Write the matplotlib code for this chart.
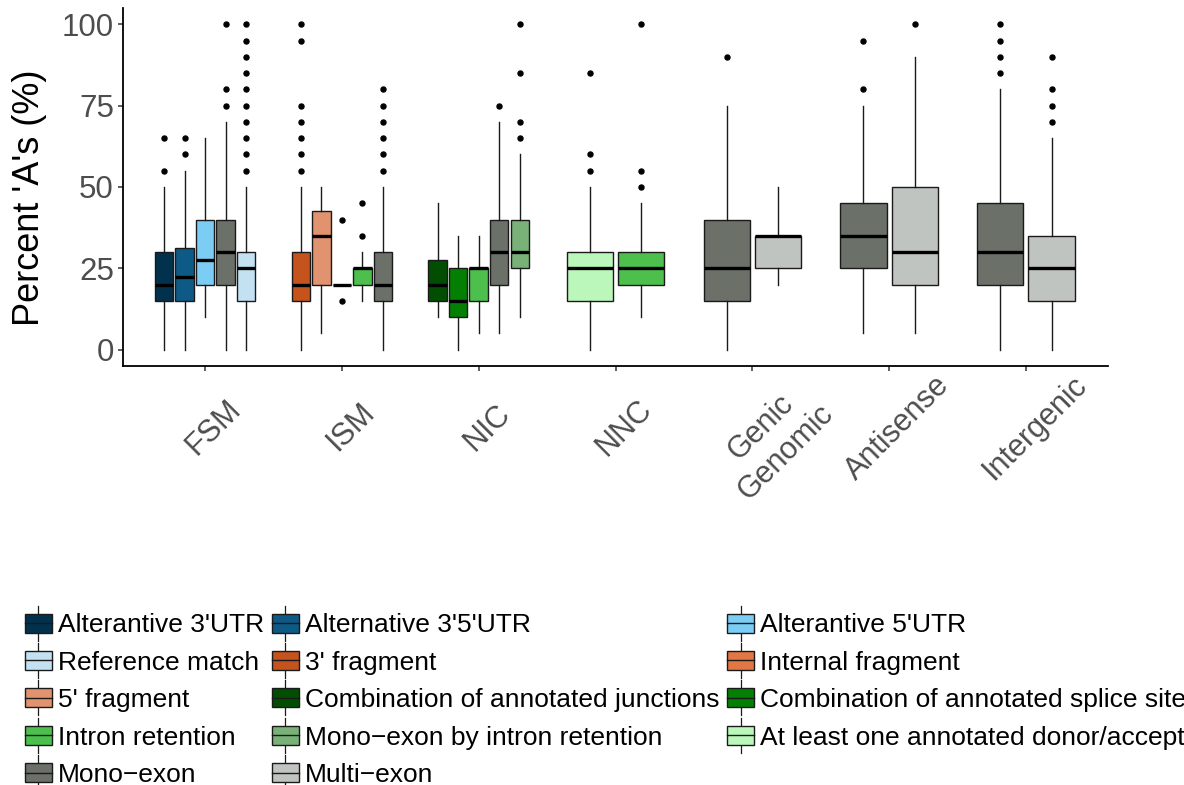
import matplotlib
matplotlib.use("Agg")
import matplotlib.pyplot as plt
import matplotlib.transforms as mtransforms
from matplotlib.patches import Rectangle, Patch
from matplotlib.lines import Line2D
from matplotlib.legend_handler import HandlerBase

plt.rcParams['font.family'] = ['Liberation Sans', 'DejaVu Sans']

# ---------------- data ----------------
categories = ["FSM", "ISM", "NIC", "NNC", "Genic\nGenomic", "Antisense", "Intergenic"]

subcategories = ["Alterantive 3'UTR", "Alternative 3'5'UTR", "Alterantive 5'UTR",
                 "Reference match", "3' fragment", "Internal fragment",
                 "5' fragment", "Combination of annotated junctions",
                 "Combination of annotated splice sites",
                 "Intron retention", "Mono\u2212exon by intron retention",
                 "At least one annotated donor/acceptor",
                 "Mono\u2212exon", "Multi\u2212exon"]

sub_colors = ["#02314d", "#0e5a87", "#7ccdf4",
              "#c4e1f2", "#c4531d", "#e37744",
              "#e0936e", "#014d02", "#038003",
              "#4cbf4c", "#79b179", "#bbf7bb",
              "#6b7069", "#c0c4c0"]

box_category = [0, 0, 0, 0, 0,
                1, 1, 1, 1, 1,
                2, 2, 2, 2, 2,
                3, 3,
                4, 4,
                5, 5,
                6, 6]
box_subcategory = [0, 1, 2, 12, 3,
                   4, 6, 5, 9, 12,
                   7, 8, 9, 12, 10,
                   11, 9,
                   12, 13,
                   12, 13,
                   12, 13]
q1 = [15, 15, 20, 20, 15,
      15, 20, 20, 20, 15,
      15, 10, 15, 20, 25,
      15, 20,
      15, 25,
      25, 20,
      20, 15]
medians = [20, 22.5, 27.5, 30, 25,
           20, 35, 20, 25, 20,
           20, 15, 25, 30, 30,
           25, 25,
           25, 35,
           35, 30,
           30, 25]
q3 = [30, 31.25, 40, 40, 30,
      30, 42.5, 20, 25, 30,
      27.5, 25, 25, 40, 40,
      30, 30,
      40, 35,
      45, 50,
      45, 35]
whisker_low = [0, 0, 10, 0, 0,
               0, 5, 20, 15, 0,
               10, 0, 5, 5, 10,
               0, 10,
               0, 20,
               5, 5,
               0, 0]
whisker_high = [50, 55, 65, 70, 50,
                50, 50, 20, 30, 50,
                45, 35, 35, 70, 60,
                50, 45,
                75, 50,
                75, 90,
                80, 65]
outliers = [[55, 65], [60, 65], [], [75, 80, 100],
            [55, 60, 65, 70, 75, 80, 85, 90, 95, 100],
            [55, 60, 65, 70, 75, 95, 100], [], [15, 40], [35, 45],
            [55, 60, 65, 70, 75, 80],
            [], [], [], [75], [65, 70, 85, 100],
            [55, 60, 85], [50, 55, 100],
            [90], [],
            [80, 95], [100],
            [85, 90, 95, 100], [70, 75, 80, 90]]

y_ticks = [0, 25, 50, 75, 100]

# ---------------- figure ----------------
W, H = 1184, 785
fig = plt.figure(figsize=(W / 100, H / 100), dpi=100)
ax = fig.add_axes([123 / W, 1 - 366 / H, 985 / W, 358 / H])

# dodge positions (ggplot-like)
group_size = {c: box_category.count(c) for c in set(box_category)}
seen = {}
positions, widths = [], []
for c in box_category:
    i = seen.get(c, 0)
    seen[c] = i + 1
    n = group_size[c]
    positions.append(c + 1 - 0.375 + (i + 0.5) * 0.75 / n)
    widths.append(0.9 * 0.75 / n)

stats = []
for k in range(len(box_category)):
    stats.append(dict(q1=q1[k], med=medians[k], q3=q3[k],
                      whislo=whisker_low[k], whishi=whisker_high[k],
                      fliers=outliers[k]))

res = ax.bxp(stats, positions=positions, widths=widths, patch_artist=True,
             showcaps=False,
             boxprops=dict(edgecolor='#1a1a1a', linewidth=1.0),
             medianprops=dict(color='black', linewidth=2.4, solid_capstyle='butt'),
             whiskerprops=dict(color='#1a1a1a', linewidth=1.0),
             flierprops=dict(marker='o', markerfacecolor='black',
                             markeredgecolor='black', markersize=3.6,
                             linestyle='none'))
for patch, s in zip(res['boxes'], box_subcategory):
    patch.set_facecolor(sub_colors[s])
    patch.set_zorder(2)

ax.set_xlim(0.4, len(categories) + 0.6)
ax.set_ylim(-5, 105)
ax.set_yticks(y_ticks)
ax.set_yticklabels([str(v) for v in y_ticks])
ax.set_xticks(range(1, len(categories) + 1))
ax.set_xticklabels([''] * len(categories))

for side in ['top', 'right']:
    ax.spines[side].set_visible(False)
for side in ['left', 'bottom']:
    ax.spines[side].set_color('black')
    ax.spines[side].set_linewidth(1.3)

ax.tick_params(axis='both', direction='out', length=3.6, width=1.1,
               color='#333333', labelcolor='#4d4d4d', labelsize=22.5, pad=3)

ax.set_ylabel("Percent 'A's (%)", fontsize=26, color='black')
ax.yaxis.set_label_coords(-0.077, 0.47)

# rotated x labels
trans = mtransforms.blended_transform_factory(ax.transData, fig.transFigure)
trans = trans + mtransforms.ScaledTranslation(-2 / 100, 0, fig.dpi_scale_trans)
for i, lab in enumerate(categories):
    ax.text(i + 1, 1 - 417 / H, lab, transform=trans, rotation=45,
            rotation_mode='anchor', ha='center', va='top',
            multialignment='center', fontsize=22, color='#4d4d4d',
            clip_on=False)


# legend with boxplot glyph keys
class BoxKeyHandler(HandlerBase):
    def create_artists(self, legend, orig_handle, xdescent, ydescent,
                       width, height, fontsize, trans):
        x0 = -xdescent
        cy = 0.358 * fontsize          # centred on cap height of the text
        half_all = 0.663 * fontsize
        half_box = 0.36 * fontsize
        cx = x0 + width / 2
        wl = Line2D([cx, cx], [cy - half_all, cy + half_all], color='#1a1a1a',
                    lw=0.9, transform=trans)
        rect = Rectangle((x0, cy - half_box), width, 2 * half_box,
                         facecolor=orig_handle.get_facecolor(),
                         edgecolor='#1a1a1a', lw=1.0, transform=trans)
        mid = Line2D([x0, x0 + width], [cy, cy], color='#1a1a1a',
                     lw=1.0, transform=trans)
        return [wl, rect, mid]


handles = [Patch(facecolor=c) for c in sub_colors]
ncol = 3
nrow = -(-len(subcategories) // ncol)
order = []
for col in range(ncol):
    for row in range(nrow):
        k = row * ncol + col
        if k < len(subcategories):
            order.append(k)

fig.legend([handles[k] for k in order], [subcategories[k] for k in order],
           handler_map={Patch: BoxKeyHandler()}, ncol=ncol,
           loc='upper left', bbox_to_anchor=(25 / W, 1 - 609 / H),
           frameon=False, fontsize=19, handlelength=1.02, handleheight=1.33,
           handletextpad=0.23, columnspacing=0.3, labelspacing=0.31,
           borderpad=0, borderaxespad=0)

fig.savefig("out.png", dpi=100)
